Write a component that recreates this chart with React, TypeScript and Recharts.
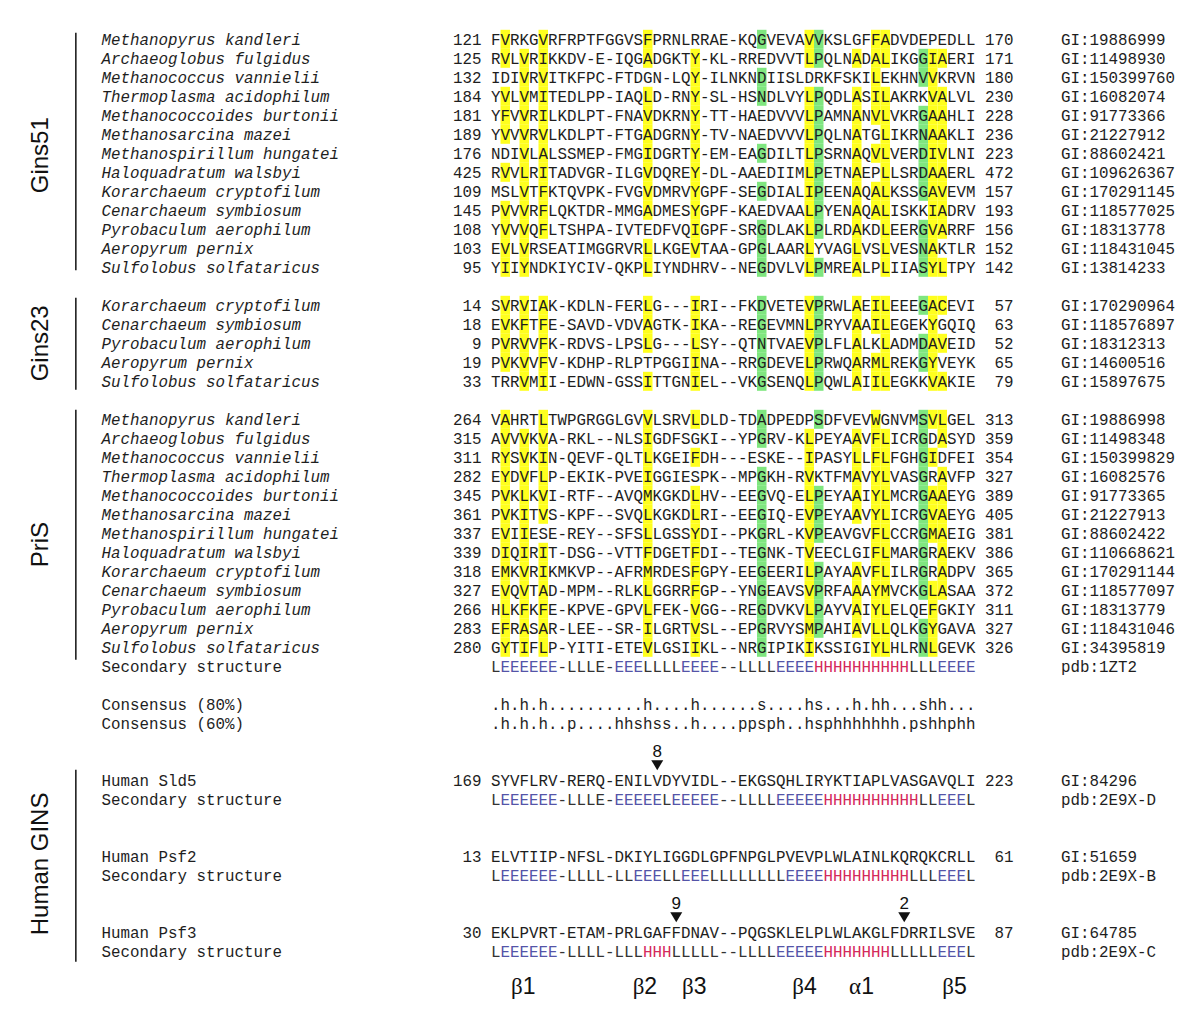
import React from 'react';
import { ScatterChart, Scatter, XAxis, YAxis, ReferenceLine } from 'recharts';

// page / grid layout: one column per residue, one row per text line
const WIDTH = 1200;
const HEIGHT = 1023;
const COL_PX = 9.5;
const ROW_PX = 19;
const SEQ_LEFT = 491;
const ROW0_Y = 39.3;
const X_DOMAIN: [number, number] = [-SEQ_LEFT / COL_PX - 0.5, (WIDTH - SEQ_LEFT) / COL_PX - 0.5];
const Y_DOMAIN: [number, number] = [-ROW0_Y / ROW_PX, (HEIGHT - ROW0_Y) / ROW_PX];

const MONO = "'Liberation Mono', 'Courier New', monospace";
const SANS = "'Liberation Sans', Arial, sans-serif";

// ---------- Gins51 ----------
const gins51Species = [
  'Methanopyrus kandleri', 'Archaeoglobus fulgidus', 'Methanococcus vannielii', 'Thermoplasma acidophilum',
  'Methanococcoides burtonii', 'Methanosarcina mazei', 'Methanospirillum hungatei', 'Haloquadratum walsbyi',
  'Korarchaeum cryptofilum', 'Cenarchaeum symbiosum', 'Pyrobaculum aerophilum', 'Aeropyrum pernix',
  'Sulfolobus solfataricus',
];
const gins51Start = [121, 125, 132, 184, 181, 189, 176, 425, 109, 145, 108, 103, 95];
const gins51End = [170, 171, 180, 230, 228, 236, 223, 472, 157, 193, 156, 152, 142];
const gins51Gi = [
  '19886999', '11498930', '150399760', '16082074', '91773366', '21227912', '88602421',
  '109626367', '170291145', '118577025', '18313778', '118431045', '13814233',
];
const gins51Seq = [
  'FVRKGVRFRPTFGGVSFPRNLRRAE-KQGVEVAVVKSLGFFADVDEPEDLL',
  'RVLVRIKKDV-E-IQGADGKTY-KL-RREDVVTLPQLNADALIKGGIAERI',
  'IDIVRVITKFPC-FTDGN-LQY-ILNKNDIISLDRKFSKILEKHNVVKRVN',
  'YVLVMITEDLPP-IAQLD-RNY-SL-HSNDLVYLPQDLASILAKRKVALVL',
  'YFVVRILKDLPT-FNAVDKRNY-TT-HAEDVVVLPAMNANVLVKRGAAHLI',
  'YVVVRVLKDLPT-FTGADGRNY-TV-NAEDVVVLPQLNATGLIKRNAAKLI',
  'NDIVLALSSMEP-FMGIDGRTY-EM-EAGDILTLPSRNAQVLVERDIVLNI',
  'RVVLRITADVGR-ILGVDQREY-DL-AAEDIIMLPETNAEPLLSRDAAERL',
  'MSLVTFKTQVPK-FVGVDMRVYGPF-SEGDIALIPEENAQALKSSGAVEVM',
  'PVVVRFLQKTDR-MMGADMESYGPF-KAEDVAALPYENAQALISKKIADRV',
  'YVVVQFLTSHPA-IVTEDFVQIGPF-SRGDLAKLPLRDAKDLEERGVARRF',
  'EVLVRSEATIMGGRVRLLKGEVTAA-GPGLAARLYVAGLVSLVESNAKTLR',
  'YIIYNDKIYCIV-QKPLIYNDHRV--NEGDVLVLPMREALPLIIASYLTPY',
];
const gins51Yellow = [
  [1, 5, 16, 33, 40, 41],
  [1, 3, 5, 16, 21, 33, 38, 40, 41, 46, 47],
  [3, 5, 21, 40, 46],
  [1, 3, 5, 16, 21, 33, 38, 40, 41, 46, 47],
  [1, 3, 5, 16, 21, 33, 38, 40, 41, 46, 47],
  [1, 3, 5, 16, 21, 33, 38, 41, 46, 47],
  [3, 5, 16, 21, 33, 38, 40, 41, 46, 47],
  [1, 3, 5, 16, 21, 33, 38, 41, 46, 47],
  [3, 5, 16, 21, 33, 38, 40, 41, 46, 47],
  [1, 3, 5, 16, 21, 33, 38, 40, 41, 46, 47],
  [1, 3, 5, 21, 33, 38, 41, 46, 47],
  [1, 3, 16, 21, 33, 38, 41, 46],
  [1, 3, 16, 33, 38, 41, 46, 47],
];
const gins51Green = [
  [28, 34], [34, 45], [28, 45], [28, 34], [34, 45], [34, 45], [28, 34, 45],
  [34, 45], [28, 34, 45], [34], [28, 34, 45], [28, 45], [28, 34, 45],
];

// ---------- Gins23 ----------
const gins23Species = [
  'Korarchaeum cryptofilum', 'Cenarchaeum symbiosum', 'Pyrobaculum aerophilum', 'Aeropyrum pernix',
  'Sulfolobus solfataricus',
];
const gins23Start = [14, 18, 9, 19, 33];
const gins23End = [57, 63, 52, 65, 79];
const gins23Gi = ['170290964', '118576897', '18312313', '14600516', '15897675'];
const gins23Seq = [
  'SVRVIAK-KDLN-FERLG---IRI--FKDVETEVPRWLAEILEEEGACEVI',
  'EVKFTFE-SAVD-VDVAGTK-IKA--REGEVMNLPRYVAAILEGEKYGQIQ',
  'PVRVVFK-RDVS-LPSLG---LSY--QTNTVAEVPLFLALKLADMDAVEID',
  'PVKVVFV-KDHP-RLPTPGGIINA--RRGDEVELPRWQARMLREKGYVEYK',
  'TRRVMII-EDWN-GSSITTGNIEL--VKGSENQLPQWLAIILEGKKVAKIE',
];
const gins23Yellow = [
  [1, 3, 5, 16, 21, 33, 38, 40, 41, 46, 47],
  [1, 3, 5, 16, 21, 33, 38, 40, 41, 46],
  [1, 3, 5, 16, 21, 33, 38, 41, 46, 47],
  [1, 3, 5, 21, 33, 38, 40, 41, 46],
  [3, 5, 16, 21, 33, 38, 40, 41, 46, 47],
];
const gins23Green = [[28, 34, 45], [28, 34], [28, 34, 45], [28, 34, 45], [28, 34]];

// ---------- PriS ----------
const prisSpecies = gins51Species;
const prisStart = [264, 315, 311, 282, 345, 361, 337, 339, 318, 327, 266, 283, 280];
const prisEnd = [313, 359, 354, 327, 389, 405, 381, 386, 365, 372, 311, 327, 326];
const prisGi = [
  '19886998', '11498348', '150399829', '16082576', '91773365', '21227913', '88602422',
  '110668621', '170291144', '118577097', '18313779', '118431046', '34395819',
];
const prisSeq = [
  'VAHRTLTWPGRGGLGVVLSRVLDLD-TDADPEDPSDFVEVWGNVMSVLGEL',
  'AVVVKVA-RKL--NLSIGDFSGKI--YPGRV-KLPEYAAVFLICRGDASYD',
  'RYSVKIN-QEVF-QLTLKGEIFDH---ESKE--IPASYLLFLFGHGIDFEI',
  'EYDVFLP-EKIK-PVEIGGIESPK--MPGKH-RVKTFMAVYLVASGRAVFP',
  'PVKLKVI-RTF--AVQMKGKDLHV--EEGVQ-ELPEYAAIYLMCRGAAEYG',
  'PVKITVS-KPF--SVQLKGKDLRI--EEGIQ-EVPEYAAVYLICRGVAEYG',
  'EVIIESE-REY--SFSLLGSSYDI--PKGRL-KVPEAVGVFLCCRGMAEIG',
  'DIQIRIT-DSG--VTTFDGETFDI--TEGNK-TVEECLGIFLMARGRAEKV',
  'EMKVRIKMKVP--AFRMRDESFGPY-EEGEERILPAYAAVFLILRGRADPV',
  'EVQVTAD-MPM--RLKLGGRRFGP--YNGEAVSVPRFAAAYMVCKGLASAA',
  'HLKFKFE-KPVE-GPVLFEK-VGG--REGDVKVLPAYVAIYLELQEFGKIY',
  'EFRASAR-LEE--SR-ILGRTVSL--EPGRVYSMPAHIAVLLQLKGYGAVA',
  'GYTIFLP-YITI-ETEVLGSIIKL--NRGIPIKIKSSIGIYLHLRNLGEVK',
];
const prisYellow = [
  [1, 5, 16, 21, 40, 46, 47],
  [1, 3, 5, 16, 33, 38, 40, 41, 47],
  [1, 3, 5, 16, 21, 33, 38, 40, 41, 46],
  [1, 3, 5, 16, 33, 38, 40, 41, 47],
  [1, 3, 5, 16, 21, 33, 38, 40, 41, 46, 47],
  [1, 3, 5, 16, 21, 33, 38, 40, 41, 46, 47],
  [1, 3, 16, 21, 33, 40, 41, 46, 47],
  [1, 3, 5, 16, 21, 33, 40, 41, 47],
  [1, 3, 5, 16, 21, 33, 38, 40, 41, 47],
  [1, 3, 5, 16, 21, 33, 38, 40, 41, 46, 47],
  [1, 3, 5, 16, 21, 33, 38, 40, 41, 46],
  [1, 3, 5, 16, 21, 33, 38, 40, 41, 46],
  [1, 3, 5, 16, 21, 33, 40, 41, 46],
];
const prisGreen = [
  [28, 34, 45], [28, 45], [45], [28, 45], [28, 34, 45], [28, 34, 45], [28, 34, 45],
  [28, 45], [28, 34, 45], [28, 34, 45], [28, 34], [28, 34, 45], [28, 45],
];
const prisStructure = 'LEEEEEE-LLLE-EEELLLLEEEE--LLLLEEEEHHHHHHHHHHLLLEEEE';

const consensus80 = '.h.h.h..........h....h......s....hs...h.hh...shh...';
const consensus60 = '.h.h.h..p....hhshss..h....ppsph..hsphhhhhhh.pshhphh';

// ---------- Human GINS ----------
const humanNames = ['Human Sld5', 'Human Psf2', 'Human Psf3'];
const humanStart = [169, 13, 30];
const humanEnd = [223, 61, 87];
const humanGi = ['84296', '51659', '64785'];
const humanPdb = ['2E9X-D', '2E9X-B', '2E9X-C'];
const humanSeq = [
  'SYVFLRV-RERQ-ENILVDYVIDL--EKGSQHLIRYKTIAPLVASGAVQLI',
  'ELVTIIP-NFSL-DKIYLIGGDLGPFNPGLPVEVPLWLAINLKQRQKCRLL',
  'EKLPVRT-ETAM-PRLGAFFDNAV--PQGSKLELPLWLAKGLFDRRILSVE',
];
const humanStructure = [
  'LEEEEEE-LLLE-EEEEELEEEEE--LLLLEEEEEHHHHHHHHHHLLEEEL',
  'LEEEEEE-LLLL-LLEEELLEEELLLLLLLLEEEEHHHHHHHHHLLLEEEL',
  'LEEEEEE-LLLL-LLLHHHLLLLL--LLLLEEEEEHHHHHHHLLLLLEEEL',
];

// markers above the human sequences
const markerLabels = ['8', '9', '2'];
const markerCols = [17, 19, 43];
const markerSeqIndex = [0, 2, 2];

// element labels under the alignment
const elementLabels = [['β', '1'], ['β', '2'], ['β', '3'], ['β', '4'], ['α', '1'], ['β', '5']];
const elementCols = [2.9, 15.7, 20.9, 32.5, 38.5, 48.3];

// group brackets on the left
const groupNames = ['Gins51', 'Gins23', 'PriS', 'Human GINS'];
const groupCenterRows = [6.1, 16, 26.6, 43.4];
const groupSpans: [number, number][] = [[-0.35, 12.15], [13.6, 18.45], [19.5, 32.65], [38.45, 48.55]];

// text columns
const NAME_COL = -41;
const START_COL = -2;
const END_COL = 54;
const GI_COL = 60;
const BAR_COL = -44.2;
const GROUP_LABEL_COL = -48;
const ELEMENT_ROW = 49.8;

type TextPoint = {
  x: number; y: number; text: string; anchor: 'start' | 'end';
  italic?: boolean; structure?: boolean;
};
type CellPoint = { x: number; y: number; color: string };

const textPoints: TextPoint[] = [];
const cellPoints: CellPoint[] = [];

const addLine = (row: number, name: string, italic: boolean, start: number | null, seq: string,
  end: number | null, id: string, structure = false) => {
  textPoints.push({ x: NAME_COL, y: row, text: name, anchor: 'start', italic });
  if (start !== null) textPoints.push({ x: START_COL, y: row, text: String(start), anchor: 'end' });
  textPoints.push({ x: 0, y: row, text: seq, anchor: 'start', structure });
  if (end !== null) textPoints.push({ x: END_COL, y: row, text: String(end), anchor: 'end' });
  if (id) textPoints.push({ x: GI_COL, y: row, text: id, anchor: 'start' });
};

const addBlock = (firstRow: number, names: string[], starts: number[], ends: number[], gis: string[],
  seqs: string[], yellow: number[][], green: number[][]) => {
  seqs.forEach((seq, i) => {
    const row = firstRow + i;
    addLine(row, names[i], true, starts[i], seq, ends[i], 'GI:' + gis[i]);
    yellow[i].forEach((c) => cellPoints.push({ x: c, y: row, color: '#ffff1e' }));
    green[i].forEach((c) => cellPoints.push({ x: c, y: row, color: '#7fe67f' }));
  });
};

addBlock(0, gins51Species, gins51Start, gins51End, gins51Gi, gins51Seq, gins51Yellow, gins51Green);
addBlock(14, gins23Species, gins23Start, gins23End, gins23Gi, gins23Seq, gins23Yellow, gins23Green);
addBlock(20, prisSpecies, prisStart, prisEnd, prisGi, prisSeq, prisYellow, prisGreen);
addLine(33, 'Secondary structure', false, null, prisStructure, null, 'pdb:1ZT2', true);
addLine(35, 'Consensus (80%)', false, null, consensus80, null, '');
addLine(36, 'Consensus (60%)', false, null, consensus60, null, '');
const humanRows = [39, 43, 47];
humanSeq.forEach((seq, i) => {
  addLine(humanRows[i], humanNames[i], false, humanStart[i], seq, humanEnd[i], 'GI:' + humanGi[i]);
  addLine(humanRows[i] + 1, 'Secondary structure', false, null, humanStructure[i], null, 'pdb:' + humanPdb[i], true);
});

const markerPoints = markerLabels.map((label, i) => ({
  x: markerCols[i], y: humanRows[markerSeqIndex[i]] - 0.85, label,
}));
const elementPoints = elementLabels.map((label, i) => ({ x: elementCols[i], y: ELEMENT_ROW, label }));
const groupPoints = groupNames.map((label, i) => ({ x: GROUP_LABEL_COL, y: groupCenterRows[i], label }));

const structureColor = (s: string, i: number) => {
  const ch = s[i];
  if (ch === 'H') return '#d42a5b';
  if (ch === 'E') {
    let a = i;
    let b = i;
    while (a > 0 && s[a - 1] === 'E') a--;
    while (b < s.length - 1 && s[b + 1] === 'E') b++;
    if (b - a >= 1) return '#5454a8';
  }
  return '#333333';
};

const renderCell = (props: any) => {
  const { cx, cy, payload } = props;
  return (
    <rect x={cx - COL_PX / 2} y={cy - ROW_PX / 2} width={COL_PX} height={ROW_PX} fill={payload.color} />
  );
};

const renderText = (props: any) => {
  const { cx, cy, payload } = props;
  const p = payload as TextPoint;
  const x = p.anchor === 'end' ? cx + COL_PX / 2 : cx - COL_PX / 2;
  return (
    <text
      x={x}
      y={cy + 5.2}
      textAnchor={p.anchor}
      fontFamily={MONO}
      fontSize={15.83}
      fontStyle={p.italic ? 'italic' : 'normal'}
      fill="#1e1e1e"
      style={{ whiteSpace: 'pre' }}
    >
      {p.structure
        ? p.text.split('').map((ch, i) => (
            <tspan key={i} fill={structureColor(p.text, i)}>{ch}</tspan>
          ))
        : p.text}
    </text>
  );
};

const renderMarker = (props: any) => {
  const { cx, cy, payload } = props;
  return (
    <g>
      <text x={cx} y={cy - 7} textAnchor="middle" fontFamily={SANS} fontSize={17} fill="#111">
        {payload.label}
      </text>
      <path d={`M${cx - 6},${cy - 4} L${cx + 6},${cy - 4} L${cx},${cy + 6} Z`} fill="#111" />
    </g>
  );
};

const renderElement = (props: any) => {
  const { cx, cy, payload } = props;
  return (
    <text x={cx} y={cy + 8} textAnchor="middle" fontSize={23} fill="#111">
      <tspan fontFamily="'Liberation Serif', 'DejaVu Serif', serif">{payload.label[0]}</tspan>
      <tspan fontFamily={SANS}>{payload.label[1]}</tspan>
    </text>
  );
};

const renderGroup = (props: any) => {
  const { cx, cy, payload } = props;
  return (
    <text
      x={cx}
      y={cy}
      transform={`rotate(-90 ${cx} ${cy})`}
      textAnchor="middle"
      dominantBaseline="central"
      fontFamily={SANS}
      fontSize={24}
      fill="#111"
    >
      {payload.label}
    </text>
  );
};

export default function App() {
  return (
    <div style={{ position: 'absolute', left: 0, top: 0, width: WIDTH, height: HEIGHT, background: '#fff' }}>
      <ScatterChart width={WIDTH} height={HEIGHT} margin={{ top: 0, right: 0, bottom: 0, left: 0 }}>
        <XAxis type="number" dataKey="x" domain={X_DOMAIN} allowDataOverflow hide />
        <YAxis type="number" dataKey="y" domain={Y_DOMAIN} allowDataOverflow reversed hide />
        {groupSpans.map((span, i) => (
          <ReferenceLine
            key={i}
            segment={[{ x: BAR_COL, y: span[0] }, { x: BAR_COL, y: span[1] }]}
            stroke="#111"
            strokeWidth={1.5}
          />
        ))}
        <Scatter data={cellPoints} shape={renderCell} isAnimationActive={false} />
        <Scatter data={textPoints} shape={renderText} isAnimationActive={false} />
        <Scatter data={markerPoints} shape={renderMarker} isAnimationActive={false} />
        <Scatter data={elementPoints} shape={renderElement} isAnimationActive={false} />
        <Scatter data={groupPoints} shape={renderGroup} isAnimationActive={false} />
      </ScatterChart>
    </div>
  );
}
